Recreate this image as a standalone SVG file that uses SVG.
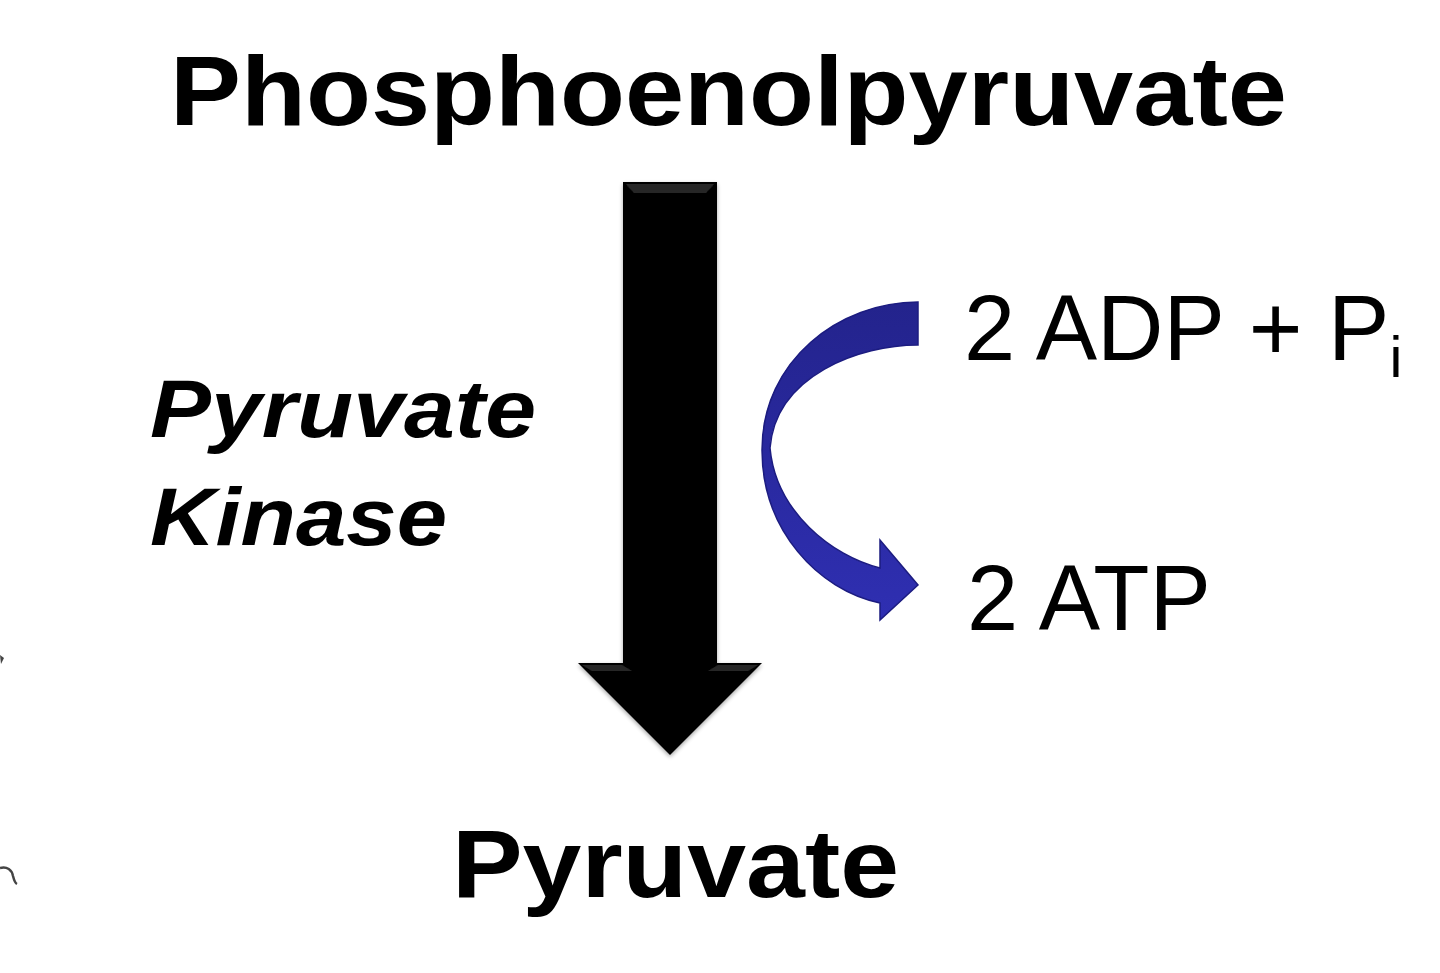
<svg xmlns="http://www.w3.org/2000/svg" width="1440" height="973" viewBox="0 0 1440 973">
<style>
.b{font-family:"Liberation Sans",Arial,sans-serif;font-weight:bold;fill:#000}
.bi{font-family:"Liberation Sans",Arial,sans-serif;font-weight:bold;font-style:italic;fill:#000}
.r{font-family:"Liberation Sans",Arial,sans-serif;fill:#000}
</style>
<defs>
<linearGradient id="blue" x1="0" y1="0" x2="0" y2="1">
<stop offset="0" stop-color="#23238c"/>
<stop offset="1" stop-color="#2f2fb2"/>
</linearGradient>
<filter id="sh" x="-20%" y="-10%" width="140%" height="120%">
<feGaussianBlur in="SourceAlpha" stdDeviation="2"/>
<feOffset dy="2"/>
<feComponentTransfer><feFuncA type="linear" slope="0.35"/></feComponentTransfer>
<feMerge><feMergeNode/><feMergeNode in="SourceGraphic"/></feMerge>
</filter>
</defs>
<rect width="1440" height="973" fill="#fff"/>
<g id="pep"><text class="b" x="170" y="125" font-size="98" textLength="1117" lengthAdjust="spacingAndGlyphs">Phosphoenolpyruvate</text></g>
<g id="pyruvate"><text class="b" x="452" y="897" font-size="97" textLength="447" lengthAdjust="spacingAndGlyphs">Pyruvate</text></g>
<g id="enzyme">
<text class="bi" x="150" y="437" font-size="82" textLength="386" lengthAdjust="spacingAndGlyphs">Pyruvate</text>
<text class="bi" x="150" y="545" font-size="82" textLength="297" lengthAdjust="spacingAndGlyphs">Kinase</text>
</g>
<g id="adp"><text class="r" x="964" y="360" font-size="92">2 ADP + P<tspan font-size="58" dy="17">i</tspan></text></g>
<g id="atp"><text class="r" x="967" y="630" font-size="92">2 ATP</text></g>
<g id="connectors">
<g filter="url(#sh)">
<path d="M623,182 L717,182 L717,663 L762,663 L670,755 L578,663 L623,663 Z" fill="#060606"/>
<path d="M626,184 L714,184 L706,193 L634,193 Z" fill="#262626"/>
<path d="M582,665 L622,665 L632,671 L592,671 Z" fill="#262626"/>
<path d="M758,665 L718,665 L708,671 L748,671 Z" fill="#262626"/>
</g>
<path d="M918,302 L918,345 C860,345 776,375 770,448 C776,512 832,556 880,568 L880,540 L918,585 L880,620 L880,603 C818,590 762,530 762,450 C762,360 840,302 918,302 Z" fill="url(#blue)" stroke="#1c1c80" stroke-width="1.5"/>
</g>
<path d="M0,655 L4,658 L1,664 Z" fill="#444"/>
<path d="M0,868 C7,866 12,870 13,876 C14,880 15,883 17,884" fill="none" stroke="#444" stroke-width="2.5"/>
</svg>
